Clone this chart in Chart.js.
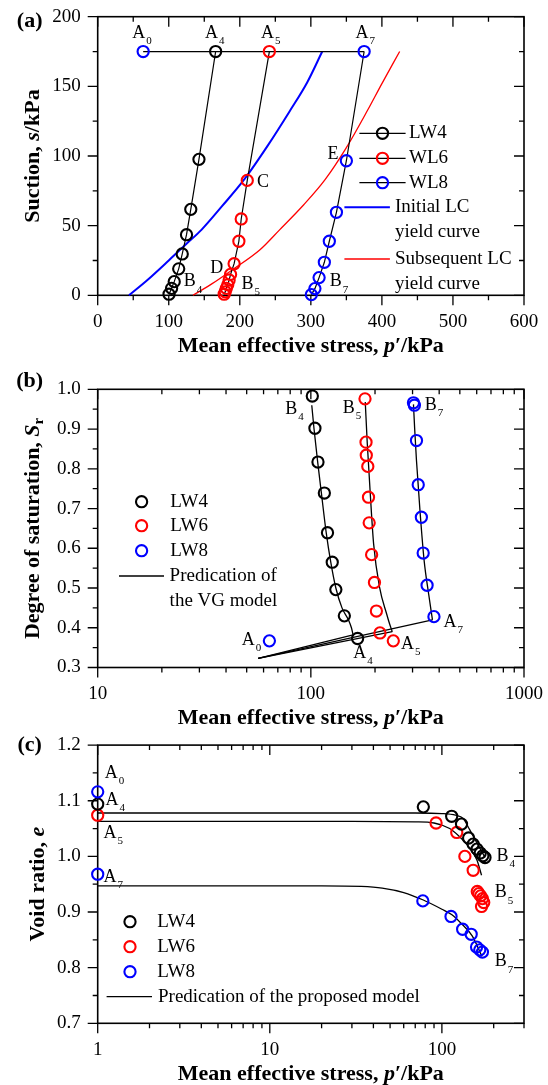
<!DOCTYPE html>
<html>
<head>
<meta charset="utf-8">
<script src="https://cdn.jsdelivr.net/npm/chart.js@4.4.1/dist/chart.umd.min.js"></script>
<style>
  html, body { margin: 0; padding: 0; background: #fff; }
  canvas { position: absolute; left: 0; }
</style>
</head>
<body>
<canvas id="ca" width="548" height="362" style="top:0"></canvas>
<canvas id="cb" width="548" height="373" style="top:362px"></canvas>
<canvas id="cc" width="548" height="350" style="top:735px"></canvas>
<script>
// ---- panel (a): suction vs mean effective stress ----
const aLW4p = [166, 142.5, 131, 125, 119, 114, 107.7, 104, 100.4];
const aLW4s = [175, 97.6, 61.7, 43.5, 29.7, 19, 9.8, 5, 0.8];
const aWL6p = [241.6, 210.5, 202, 198.7, 192, 187, 185, 183, 181, 179.5, 178];
const aWL6s = [175, 82.5, 54.8, 38.8, 22.7, 15, 11, 7.5, 5, 2.5, 0.8];
const aWL8p = [375, 350, 336, 326, 319, 311.6, 305.7, 300.7];
const aWL8s = [175, 96.6, 59.6, 38.8, 23.7, 12.7, 4.8, 0.5];
const aA0p = [64];
const aA0s = [175];
const aPathP = [64, 375];
const aPathS = [175, 175];
const aInitP = [44, 70, 100, 125, 146, 175, 206, 240, 270, 295, 316];
const aInitS = [0, 11, 25, 37, 47, 64, 83, 108, 132, 153, 175];
const aSubP = [134, 160, 190, 228, 256, 290, 320, 350, 380, 400, 425];
const aSubS = [0, 8, 18.5, 32.5, 47, 65, 83, 106, 133, 152, 175];

// ---- panel (b): degree of saturation ----
const bLW4p = [101.6, 104.5, 108, 115.7, 119.7, 126, 131, 143.6, 165.7];
const bLW4sr = [0.983, 0.902, 0.817, 0.739, 0.639, 0.565, 0.496, 0.430, 0.373];
const bLW6p = [179.5, 181.5, 182, 185, 186.4, 187.8, 192.8, 198.8, 203, 211, 243.7];
const bLW6sr = [0.976, 0.867, 0.834, 0.806, 0.7285, 0.664, 0.584, 0.514, 0.442, 0.387, 0.367];
const bLW8p = [303, 306, 313, 319, 330, 336.5, 351, 378];
const bLW8sr = [0.966, 0.960, 0.871, 0.760, 0.678, 0.588, 0.507, 0.428];
const bA0p = [63.9];
const bA0sr = [0.367];
const bVGstart = [56.6, 0.3227];
const bVG4p = [101, 103.5, 107.5, 112, 118, 124, 131, 140, 150, 155, 157.8];
const bVG4sr = [0.96, 0.9, 0.82, 0.74, 0.64, 0.565, 0.5, 0.45, 0.42, 0.40, 0.382];
const bVG6p = [180, 184, 190, 197, 210, 227, 234, 241];
const bVG6sr = [0.968, 0.863, 0.737, 0.611, 0.502, 0.434, 0.41, 0.39];
const bVG8p = [303, 307, 313, 325, 340, 357, 372];
const bVG8sr = [0.962, 0.9, 0.821, 0.695, 0.569, 0.485, 0.42];

// ---- panel (c): void ratio ----
const cLW4p = [1, 78, 114, 130, 143, 152, 160, 167, 173, 178];
const cLW4e = [1.094, 1.089, 1.072, 1.058, 1.033, 1.022, 1.013, 1.006, 1.001, 0.998];
const cLW6p = [1, 92.5, 122, 136, 152, 160.6, 164, 168, 172, 175, 170];
const cLW6e = [1.074, 1.060, 1.043, 1.0, 0.975, 0.937, 0.933, 0.929, 0.924, 0.917, 0.910];
const cLW8p = [1, 77.5, 113, 132, 148, 159, 166, 172];
const cLW8e = [0.968, 0.920, 0.892, 0.869, 0.860, 0.837, 0.832, 0.828];
const cA0p = [1];
const cA0e = [1.116];
const cM4p = [1, 30, 70, 100, 120, 133, 145, 160, 178];
const cM4e = [1.078, 1.078, 1.078, 1.077, 1.074, 1.068, 1.048, 1.024, 0.998];
const cM6p = [1, 30, 70, 90, 111, 125, 139, 150, 160, 170];
const cM6e = [1.063, 1.063, 1.062, 1.060, 1.050, 1.037, 1.022, 1.008, 0.993, 0.966];
const cM8p = [1, 20, 34, 45, 60, 77.4, 100, 114.4, 130, 150, 171];
const cM8e = [0.947, 0.947, 0.946, 0.943, 0.935, 0.922, 0.905, 0.895, 0.879, 0.857, 0.82];

// tick values
const aXmajor = [0, 100, 200, 300, 400, 500, 600];
const aXminor = [50, 150, 250, 350, 450, 550];
const aYmajor = [0, 50, 100, 150, 200];
const aYminor = [25, 75, 125, 175];
const bXmajor = [10, 100, 1000];
const bXminor = [20, 30, 40, 50, 60, 70, 80, 90, 200, 300, 400, 500, 600, 700, 800, 900];
const bYmajor = [0.3, 0.4, 0.5, 0.6, 0.7, 0.8, 0.9, 1.0];
const bYminor = [0.35, 0.45, 0.55, 0.65, 0.75, 0.85, 0.95];
const cXmajor = [1, 10, 100];
const cXminor = [2, 3, 4, 5, 6, 7, 8, 9, 20, 30, 40, 50, 60, 70, 80, 90, 200, 300];
const cYmajor = [0.7, 0.8, 0.9, 1.0, 1.1, 1.2];
const cYminor = [0.75, 0.85, 0.95, 1.05, 1.15];

// label anchors (letter, subscript, x, y in data units)
const aNotes = [['A','0',57.7,188], ['A','4',160,188], ['A','5',239,188], ['A','7',372,188],
  ['C','',232.7,80.8], ['D','',167.6,19.4], ['E','',331,101.4],
  ['B','4',129.7,9.8], ['B','5',211,7.9], ['B','7',335,9.8]];
const bNotes = [['B','4',80.9,0.951], ['B','5',150.6,0.953], ['B','7',365,0.96],
  ['A','0',50.9,0.369], ['A','4',169.7,0.336], ['A','5',284,0.359], ['A','7',449,0.4134]];
const cNotes = [['A','0',1.2,1.149], ['A','4',1.21,1.101], ['A','5',1.18,1.041], ['A','7',1.18,0.963],
  ['B','4',224.7,1.0006], ['B','5',219.6,0.9347], ['B','7',219.6,0.8108]];

const SERIF = '"Liberation Serif", "Times New Roman", serif';
const font = (size, style) => (style ? style + ' ' : '') + size + 'px ' + SERIF;
const pts = (xs, ys) => xs.map((v, i) => ({ x: v, y: ys[i] }));

function markers(xs, ys, color, line) {
  return { data: pts(xs, ys), showLine: !!line, borderColor: '#000', borderWidth: 1.2,
    pointRadius: 5.6, pointBorderWidth: 2.1, pointBorderColor: color,
    pointBackgroundColor: 'rgba(0,0,0,0)', clip: false };
}
function curve(xs, ys, color, width, smooth) {
  return { data: pts(xs, ys), showLine: true, borderColor: color, borderWidth: width,
    pointRadius: 0, cubicInterpolationMode: smooth ? 'monotone' : 'default', tension: 0, clip: false };
}

function rich(ctx, parts, x, y, align) {
  let w = 0;
  parts.forEach(p => { ctx.font = p[1]; w += ctx.measureText(p[0]).width; });
  let cx = align === 'center' ? x - w / 2 : (align === 'right' ? x - w : x);
  ctx.textAlign = 'left';
  parts.forEach(p => {
    ctx.font = p[1];
    ctx.fillText(p[0], cx, y + (p[2] || 0));
    cx += ctx.measureText(p[0]).width;
  });
}

const B = font(22, 'bold'), BI = font(22, 'italic bold');
const xTitle = [['Mean effective stress, ', B], ['p', BI], ['\u2032/kPa', B]];

const frame = {
  id: 'frame',
  beforeDatasetsDraw(chart, args, o) {
    const { ctx, chartArea: ca, scales: { x, y } } = chart;
    ctx.save();
    ctx.strokeStyle = '#000';
    ctx.lineWidth = 1.6;
    ctx.strokeRect(ca.left, ca.top, ca.right - ca.left, ca.bottom - ca.top);
    ctx.lineWidth = 1.3;
    ctx.beginPath();
    const xt = (vals, len) => vals.forEach(v => {
      const px = x.getPixelForValue(v);
      ctx.moveTo(px, ca.bottom); ctx.lineTo(px, ca.bottom + len);
      ctx.moveTo(px, ca.top); ctx.lineTo(px, ca.top + len);
    });
    const yt = (vals, len) => vals.forEach(v => {
      const py = y.getPixelForValue(v);
      ctx.moveTo(ca.left - len, py); ctx.lineTo(ca.left, py);
      ctx.moveTo(ca.right, py); ctx.lineTo(ca.right - len, py);
    });
    xt(o.xMajor, 10); xt(o.xMinor, 5); yt(o.yMajor, 10); yt(o.yMinor, 5);
    ctx.stroke();
    ctx.restore();
  },
  afterDraw(chart, args, o) {
    const { ctx, chartArea: ca, scales: { x, y } } = chart;
    const oy = o.top;
    ctx.save();
    ctx.fillStyle = '#000';
    ctx.strokeStyle = '#000';
    ctx.textBaseline = 'middle';
    // tick labels
    ctx.font = font(19);
    ctx.textAlign = 'center';
    o.xMajor.forEach(v => ctx.fillText(o.xFmt(v), x.getPixelForValue(v), ca.bottom + 27));
    ctx.textAlign = 'right';
    o.yMajor.forEach(v => ctx.fillText(o.yFmt(v), ca.left - 17, y.getPixelForValue(v)));
    // axis titles
    rich(ctx, xTitle, (ca.left + ca.right) / 2, ca.bottom + 51, 'center');
    ctx.save();
    ctx.translate(o.yTitleX, (ca.top + ca.bottom) / 2);
    ctx.rotate(-Math.PI / 2);
    rich(ctx, o.yTitle, 0, 0, 'center');
    ctx.restore();
    // panel letter
    ctx.font = font(22, 'bold');
    ctx.textAlign = 'center';
    ctx.fillText(o.panel, 29.7, o.panelY - oy);
    // point labels
    o.notes.forEach(([m, s, vx, vy]) => {
      const px = x.getPixelForValue(vx), py = y.getPixelForValue(vy);
      ctx.font = font(18);
      ctx.textAlign = 'center';
      ctx.fillText(m, px, py);
      const w = ctx.measureText(m).width;
      ctx.font = font(11);
      ctx.textAlign = 'left';
      ctx.fillText(s, px + w / 2 + 1, py + 8);
    });
    // legend
    o.legend.forEach(e => {
      const ly = e.y - oy;
      if (e.line) {
        ctx.lineWidth = e.lw || 1.3;
        ctx.strokeStyle = e.lineColor || '#000';
        ctx.beginPath(); ctx.moveTo(e.line[0], ly); ctx.lineTo(e.line[1], ly); ctx.stroke();
      }
      if (e.dot) {
        ctx.lineWidth = 2.1;
        ctx.strokeStyle = e.dot[1];
        ctx.beginPath(); ctx.arc(e.dot[0], ly, 5.6, 0, Math.PI * 2); ctx.stroke();
      }
      ctx.font = font(19);
      ctx.textAlign = 'left';
      e.text.forEach((t, i) => ctx.fillText(t, e.tx, ly + i * 25));
    });
    ctx.restore();
  }
};

function makeChart(id, top, height, bottom, plotTop, xScale, yScale, datasets, opts) {
  const el = document.getElementById(id);
  return new Chart(el, {
    type: 'scatter',
    data: { datasets },
    options: {
      responsive: false, animation: false, events: [],
      layout: { padding: { left: 97.7, right: 24, top: plotTop - top, bottom: top + height - bottom } },
      scales: { x: Object.assign({ display: false }, xScale), y: Object.assign({ display: false }, yScale) },
      plugins: { legend: { display: false }, tooltip: { enabled: false }, frame: Object.assign({ top }, opts) }
    },
    plugins: [frame]
  });
}

const intFmt = v => String(v);
const dec1 = v => v.toFixed(1);

makeChart('ca', 0, 362, 295.3, 16.7,
  { type: 'linear', min: 0, max: 600 }, { type: 'linear', min: 0, max: 200 },
  [
    markers(aA0p, aA0s, '#0000ff'),
    markers(aLW4p, aLW4s, '#000', true),
    markers(aWL6p, aWL6s, '#ff0000', true),
    markers(aWL8p, aWL8s, '#0000ff', true),
    curve(aPathP, aPathS, '#000', 1.3),
    curve(aInitP, aInitS, '#0000ff', 2, true),
    curve(aSubP, aSubS, '#ff0000', 1.3, true)
  ],
  { xMajor: aXmajor, xMinor: aXminor, yMajor: aYmajor, yMinor: aYminor, xFmt: intFmt, yFmt: intFmt,
    yTitle: [['Suction, ', B], ['s', BI], ['/kPa', B]], yTitleX: 33.2,
    panel: '(a)', panelY: 21.7, notes: aNotes,
    legend: [
      { y: 133.3, line: [359.4, 405.6], dot: [382.5, '#000'], tx: 409, text: ['LW4'] },
      { y: 158.3, line: [359.4, 405.6], dot: [382.5, '#ff0000'], tx: 409, text: ['WL6'] },
      { y: 182.7, line: [359.4, 405.6], dot: [382.5, '#0000ff'], tx: 409, text: ['WL8'] },
      { y: 207.3, line: [344.4, 389.9], lineColor: '#0000ff', lw: 2, tx: 395, text: ['Initial LC', 'yield curve'] },
      { y: 259, line: [344.4, 389.9], lineColor: '#ff0000', lw: 1.3, tx: 395, text: ['Subsequent LC', 'yield curve'] }
    ] });

makeChart('cb', 362, 373, 667.5, 389.3,
  { type: 'logarithmic', min: 10, max: 1000 }, { type: 'linear', min: 0.3, max: 1.0 },
  [
    markers(bA0p, bA0sr, '#0000ff'),
    markers(bLW4p, bLW4sr, '#000'),
    markers(bLW6p, bLW6sr, '#ff0000'),
    markers(bLW8p, bLW8sr, '#0000ff'),
    curve(bVG4p, bVG4sr, '#000', 1.3, true),
    curve(bVG6p, bVG6sr, '#000', 1.3, true),
    curve(bVG8p, bVG8sr, '#000', 1.3, true),
    curve([bVGstart[0], bVG4p[bVG4p.length - 1]], [bVGstart[1], bVG4sr[bVG4sr.length - 1]], '#000', 1.3),
    curve([bVGstart[0], bVG6p[bVG6p.length - 1]], [bVGstart[1], bVG6sr[bVG6sr.length - 1]], '#000', 1.3),
    curve([bVGstart[0], bVG8p[bVG8p.length - 1]], [bVGstart[1], bVG8sr[bVG8sr.length - 1]], '#000', 1.3)
  ],
  { xMajor: bXmajor, xMinor: bXminor, yMajor: bYmajor, yMinor: bYminor, xFmt: intFmt, yFmt: dec1,
    yTitle: [['Degree of saturation, ', B], ['S', BI], ['r', font(15, 'bold'), 6]], yTitleX: 33.2,
    panel: '(b)', panelY: 381.7, notes: bNotes,
    legend: [
      { y: 501.7, dot: [141.6, '#000'], tx: 170.3, text: ['LW4'] },
      { y: 525.7, dot: [141.6, '#ff0000'], tx: 170.3, text: ['LW6'] },
      { y: 550.7, dot: [141.6, '#0000ff'], tx: 170.3, text: ['LW8'] },
      { y: 576, line: [119, 164], tx: 169.6, text: ['Predication of', 'the VG model'] }
    ] });

makeChart('cc', 735, 350, 1023.3, 745.1,
  { type: 'logarithmic', min: 1, max: 300 }, { type: 'linear', min: 0.7, max: 1.2 },
  [
    markers(cA0p, cA0e, '#0000ff'),
    markers(cLW4p, cLW4e, '#000'),
    markers(cLW6p, cLW6e, '#ff0000'),
    markers(cLW8p, cLW8e, '#0000ff'),
    curve(cM4p, cM4e, '#000', 1.3, true),
    curve(cM6p, cM6e, '#000', 1.3, true),
    curve(cM8p, cM8e, '#000', 1.3, true)
  ],
  { xMajor: cXmajor, xMinor: cXminor, yMajor: cYmajor, yMinor: cYminor, xFmt: intFmt, yFmt: dec1,
    yTitle: [['Void ratio, ', B], ['e', BI]], yTitleX: 38.5,
    panel: '(c)', panelY: 745, notes: cNotes,
    legend: [
      { y: 921.7, dot: [130, '#000'], tx: 157.3, text: ['LW4'] },
      { y: 946.7, dot: [130, '#ff0000'], tx: 157.3, text: ['LW6'] },
      { y: 971.7, dot: [130, '#0000ff'], tx: 157.3, text: ['LW8'] },
      { y: 996.7, line: [106.6, 152], tx: 158, text: ['Predication of the proposed model'] }
    ] });
</script>
</body>
</html>
